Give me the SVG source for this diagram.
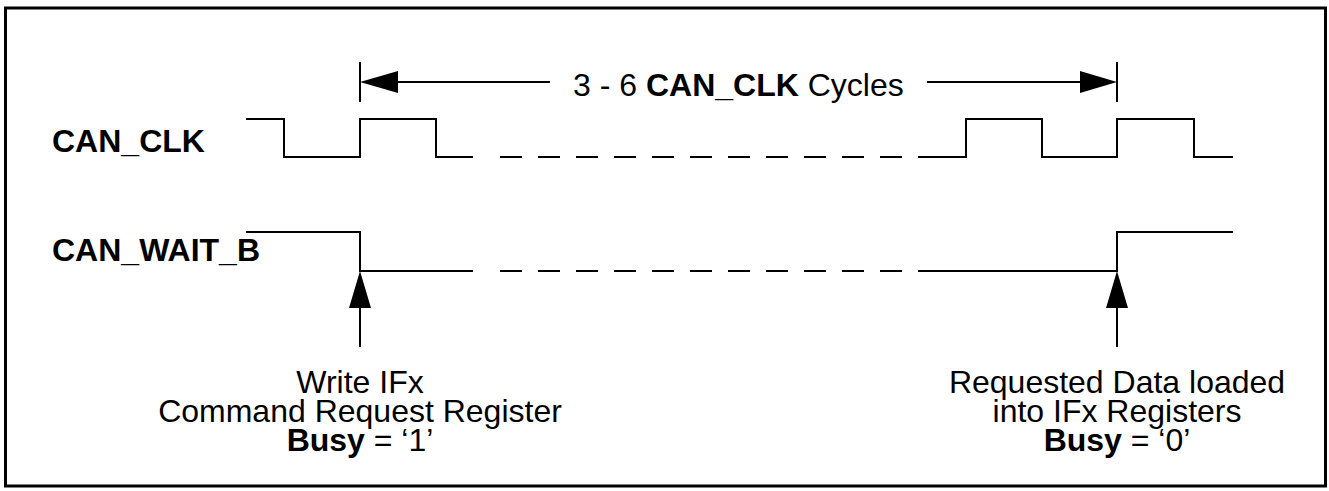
<svg xmlns="http://www.w3.org/2000/svg" width="1329" height="491" viewBox="0 0 1329 491">
<style>
.t{font-family:"Liberation Sans",Arial,sans-serif;font-size:32px;fill:#000}
.b{font-weight:bold}
.w{fill:none;stroke:#000;stroke-width:2}
.d{fill:none;stroke:#000;stroke-width:2;stroke-dasharray:22 16}
.h{fill:#000;stroke:none}
</style>
<rect x="0" y="0" width="1329" height="491" fill="#fff"/>
<rect x="5.5" y="8" width="1320" height="478" fill="none" stroke="#000" stroke-width="3"/>
<g id="label-can-clk"><text class="t b" x="52" y="152">CAN_CLK</text></g>
<g id="label-can-wait-b"><text class="t b" x="52" y="261">CAN_WAIT_B</text></g>
<g id="wave-can-clk">
<path class="w" d="M246 119H284V157H360V119H436V157H473"/>
<path class="d" d="M500 157H927"/>
<path class="w" d="M927 157H966V119H1042V157H1117V119H1194V157H1233"/>
</g>
<g id="wave-can-wait-b">
<path class="w" d="M246 232H360V271H473"/>
<path class="d" d="M500 271H927"/>
<path class="w" d="M927 271H1117V232H1233"/>
</g>
<g id="dimension">
<path class="w" d="M360 62V102M1117 62V102M380 82H550M927 82H1097"/>
<polygon class="h" points="360,82 398,71 398,93"/>
<polygon class="h" points="1117,82 1080,71 1080,93"/>
<text class="t" x="573" y="96">3 - 6 <tspan class="b">CAN_CLK</tspan> Cycles</text>
</g>
<g id="connectors">
<path class="w" d="M360 300V347M1117 300V347"/>
<polygon class="h" points="360,271 349,308 371,308"/>
<polygon class="h" points="1117,271 1106,308 1128,308"/>
</g>
<g id="note-write" text-anchor="middle">
<text class="t" x="360" y="393">Write IFx</text>
<text class="t" x="360" y="422">Command Request Register</text>
<text class="t" x="360" y="451"><tspan class="b">Busy</tspan> = ‘1’</text>
</g>
<g id="note-loaded" text-anchor="middle">
<text class="t" x="1117" y="393">Requested Data loaded</text>
<text class="t" x="1117" y="422">into IFx Registers</text>
<text class="t" x="1117" y="451"><tspan class="b">Busy</tspan> = ‘0’</text>
</g>
</svg>
